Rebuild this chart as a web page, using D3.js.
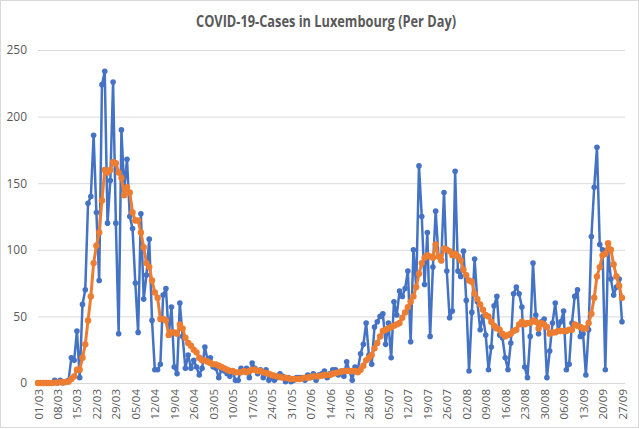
<!DOCTYPE html>
<html><head><meta charset="utf-8">
<script src="https://cdn.jsdelivr.net/npm/d3@7"></script>
<style>
html,body{margin:0;padding:0;background:#fff;}
svg{display:block;font-family:"Open Sans","Liberation Sans",Arial,sans-serif;}
</style></head>
<body>
<svg id="c" width="639" height="429"></svg>
<script>
const startDate = "2020-03-01";
const titleText = "COVID-19-Cases in Luxembourg (Per Day)";
const yTicks = [0, 50, 100, 150, 200, 250];
const tickLabels = ["01/03","08/03","15/03","22/03","29/03","05/04","12/04","19/04","26/04","03/05","10/05","17/05","24/05","31/05","07/06","14/06","21/06","28/06","05/07","12/07","19/07","26/07","02/08","09/08","16/08","23/08","30/08","06/09","13/09","20/09","27/09"];
const dailyCases = [
0,0,0,0,0,0,2,0,2,0,1,2,
19,17,39,4,59,70,135,140,186,128,77,224,234,120,152,226,120,37,190,145,168,125,116,75,38,127,63,81,108,47,10,10,14,66,71,36,57,12,7,60,35,
11,21,11,17,12,6,11,27,17,19,12,11,4,10,9,7,5,9,2,2,11,9,11,4,15,11,7,10,4,
10,2,4,2,4,7,5,1,4,1,2,4,4,4,2,6,4,7,2,6,7,9,4,7,10,10,6,9,5,16,9,
2,12,10,22,29,45,21,14,42,46,50,52,29,45,19,61,51,69,65,71,84,31,100,72,163,
125,74,113,35,87,129,95,92,143,84,49,54,159,84,80,99,62,9,53,93,61,40,50,36,10,27,58,65,36,34,19,10,30,
67,72,67,57,12,4,35,90,51,37,46,48,4,24,45,60,39,46,54,10,14,45,65,70,35,37,6,40,110,147,177,104,100,10,100,78,66,72,78,46
];
const weeklyAvg = [
0,0,0,0,0,0,0.3,0.3,0.6,0.6,0.7,1,3,5,10,10,19,29,47,65,90,103,113,137,160,158,160,166,165,158,154,141,147,143,128,122,122,113,102,90,87,77,68,64,48,48,47,36,38,38,37,44,41,
34,30,28,25,23,19,17,17,16,15,14,14,13,12,11,10,9,9,8,8,8,9,8,9,10,10,9,9,8,
7.5,7,6,5.5,5,4.5,4,4,3.5,3,3,3,3,3.5,4,4,4.5,5,5,5,5.5,6,6,6,7,7.5,8,8.5,9,9,9,
9,9,8,10,13,17,19,21,26,30,35,39,40,41,42,43,44,45,49,53,57,61,65,72,82,
90,94,96,95,94,104,95,92,101,100,99,96,97,95,92,85,81,77,76,67,63,59,55,51,50,46,43,41,40,37,35,36,37,
39,40,44,46,44,45,45,47,46,41,45,44,42,37,38,38,39,39,39,39,40,40,44,43,42,41,41,45,52,64,80,87,96,97,105,100,89,80,73,64
];

const svg = d3.select("#c");
const W = 639, H = 429;
const mLeft = 38, mRight = 622, mTop = 50, mBottom = 383, gridEnd = 625;
const n = dailyCases.length;
const t0 = new Date(startDate + "T00:00:00");
const days = d3.timeDay.range(t0, d3.timeDay.offset(t0, n));
const fmt = d3.timeFormat("%d/%m");

const x = d3.scaleLinear().domain([0, n - 1]).range([mLeft, mRight]);
const y = d3.scaleLinear().domain([0, 250]).range([mBottom, mTop]);

svg.append("rect").attr("x", 0.5).attr("y", 0.5).attr("width", W - 1).attr("height", H - 2)
  .attr("fill", "#fff").attr("stroke", "#d9d9d9").attr("stroke-width", 1);

svg.append("text").attr("x", 326).attr("y", 27).attr("text-anchor", "middle")
  .attr("font-size", 16).attr("font-weight", "bold").attr("fill", "#595959")
  .attr("textLength", 260).attr("lengthAdjust", "spacingAndGlyphs")
  .text(titleText);

const yAxis = d3.axisLeft(y).tickValues(yTicks).tickSize(-(gridEnd - mLeft)).tickPadding(11);
const gy = svg.append("g").attr("transform", `translate(${mLeft},0)`).call(yAxis);
gy.select(".domain").remove();
gy.selectAll(".tick line").attr("stroke", "#d9d9d9").attr("stroke-width", 1);
gy.selectAll(".tick text").attr("fill", "#595959").attr("font-size", 12)
  .attr("font-family", "\"Open Sans\",\"Liberation Sans\",Arial,sans-serif");

const labelIdx = tickLabels.map(t => days.findIndex(d => fmt(d) === t));
const xAxis = d3.axisBottom(x).tickValues(labelIdx).tickSize(0)
  .tickFormat(i => tickLabels[labelIdx.indexOf(i)]);
const gx = svg.append("g").attr("transform", `translate(0,${mBottom})`).call(xAxis);
gx.select(".domain").attr("stroke", "#d9d9d9").attr("d", `M${mLeft},0.5H${gridEnd}`);
gx.selectAll(".tick text")
  .attr("fill", "#595959").attr("font-size", 11.5)
  .attr("font-family", "\"Open Sans\",\"Liberation Sans\",Arial,sans-serif")
  .attr("transform", "rotate(-90)")
  .attr("text-anchor", "end")
  .attr("x", -6).attr("y", 0).attr("dy", "0.35em");

function drawSeries(vals, color, lw, r) {
  const line = d3.line().x((d, i) => x(i)).y(d => y(d));
  const g = svg.append("g");
  g.append("path").datum(vals).attr("d", line).attr("fill", "none")
    .attr("stroke", color).attr("stroke-width", lw).attr("stroke-linejoin", "round");
  g.selectAll("circle").data(vals).enter().append("circle")
    .attr("cx", (d, i) => x(i)).attr("cy", d => y(d)).attr("r", r).attr("fill", color);
}
drawSeries(dailyCases, "#4472C4", 2.5, 2.8);
drawSeries(weeklyAvg, "#ED7D31", 3, 3.2);
</script>
</body></html>
